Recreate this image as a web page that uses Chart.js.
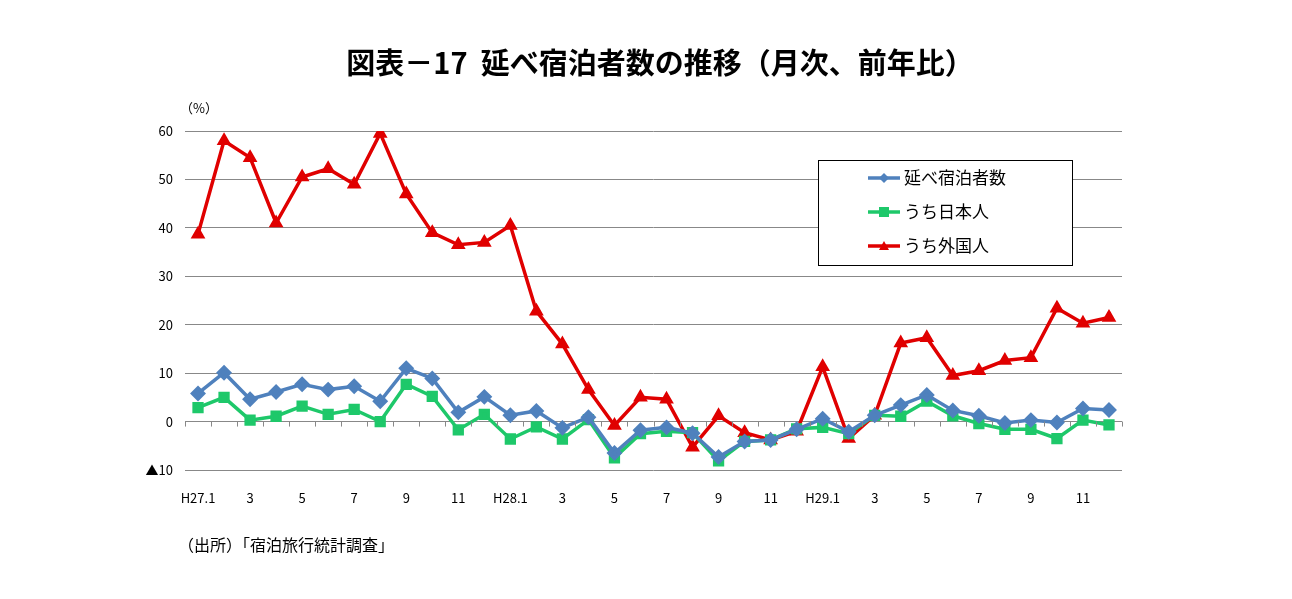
<!DOCTYPE html>
<html>
<head>
<meta charset="utf-8">
<script src="https://cdn.jsdelivr.net/npm/chart.js@4"></script>
<style>
  body { margin: 0; background: #fff; font-family: "Noto Sans CJK JP", sans-serif; }
  #wrap { position: relative; width: 1292px; height: 599px; }
  #title { position: absolute; top: 40px; left: 0; width: 1320px; text-align: center; font-size: 29px; font-weight: bold; }
  #unit { position: absolute; top: 98px; left: 180px; font-size: 13px; }
  #source { position: absolute; top: 532px; left: 178px; font-size: 16px; }
  canvas { position: absolute; left: 0; top: 0; }
</style>
</head>
<body>
<div id="wrap">
  <canvas id="c" width="1292" height="599"></canvas>
  <div id="title">図表－17&nbsp; 延べ宿泊者数の推移（月次、前年比）</div>
  <div id="unit">（%）</div>
  <div id="source">（出所）「宿泊旅行統計調査」</div>
</div>
<script>
const months = [
  "H27.1", "2", "3", "4", "5", "6", "7", "8", "9", "10", "11", "12",
  "H28.1", "2", "3", "4", "5", "6", "7", "8", "9", "10", "11", "12",
  "H29.1", "2", "3", "4", "5", "6", "7", "8", "9", "10", "11", "12",
];
const totalGuests = [
  5.8, 10.1, 4.6, 6.1, 7.7, 6.6, 7.3, 4.2, 11, 8.9, 1.9, 5.1,
  1.3, 2.2, -1.3, 0.9, -6.5, -1.8, -1.2, -2.4, -7.3, -4.1, -3.8, -1.6,
  0.6, -2.1, 1.3, 3.4, 5.5, 2.3, 1.2, -0.3, 0.3, -0.2, 2.7, 2.4,
];
const japanese = [
  2.9, 5, 0.3, 1.1, 3.2, 1.5, 2.5, 0, 7.7, 5.2, -1.7, 1.5,
  -3.6, -1.1, -3.6, 0.4, -7.5, -2.5, -2, -2.3, -8.1, -4.1, -3.8, -1.5,
  -1.2, -2.5, 1.3, 1.1, 4.2, 1.2, -0.4, -1.6, -1.6, -3.5, 0.3, -0.7,
];
const foreign = [
  38.7, 58, 54.5, 41, 50.5, 52.2, 49, 59.5, 47, 39, 36.5, 37,
  40.5, 22.8, 16, 6.6, -0.8, 5, 4.6, -5.3, 1.2, -2.3, -3.8, -2,
  11.3, -3.5, 1.3, 16.2, 17.3, 9.5, 10.5, 12.6, 13.2, 23.4, 20.3, 21.5,
];
const seriesNames = ["延べ宿泊者数", "うち日本人", "うち外国人"];

const FONT = '"Noto Sans CJK JP", sans-serif';

// legend box drawn inside the plot, and category ticks on the zero line
const extras = {
  id: "extras",
  afterDatasetsDraw(chart) {
    const ctx = chart.ctx;
    const x = chart.scales.x, y = chart.scales.y;
    const y0 = y.getPixelForValue(0);
    const half = (x.getPixelForValue(1) - x.getPixelForValue(0)) / 2;
    ctx.save();
    ctx.strokeStyle = "#888";
    ctx.lineWidth = 1;
    for (let i = 0; i <= months.length; i++) {
      const px = Math.round(x.getPixelForValue(i) - half) + 0.5;
      ctx.beginPath();
      ctx.moveTo(px, y0);
      ctx.lineTo(px, y0 + 5);
      ctx.stroke();
    }
    ctx.fillStyle = "#fff";
    ctx.fillRect(818, 160, 254, 105);
    ctx.strokeStyle = "#000";
    ctx.strokeRect(818.5, 160.5, 254, 105);
    chart.data.datasets.forEach((ds, i) => {
      const ly = 178 + i * 34;
      ctx.strokeStyle = ds.borderColor;
      ctx.lineWidth = 3.5;
      ctx.beginPath();
      ctx.moveTo(868, ly);
      ctx.lineTo(900, ly);
      ctx.stroke();
      ctx.fillStyle = ds.borderColor;
      ctx.beginPath();
      if (i === 0) {
        ctx.moveTo(884, ly - 5); ctx.lineTo(889, ly); ctx.lineTo(884, ly + 5); ctx.lineTo(879, ly);
      } else if (i === 1) {
        ctx.rect(879, ly - 5, 10, 10);
      } else {
        ctx.moveTo(884, ly - 5); ctx.lineTo(889, ly + 4); ctx.lineTo(879, ly + 4);
      }
      ctx.fill();
      ctx.fillStyle = "#000";
      ctx.font = "17px " + FONT;
      ctx.textBaseline = "middle";
      ctx.fillText(ds.label, 904, ly);
    });
    ctx.restore();
  },
};

new Chart(document.getElementById("c"), {
  type: "line",
  data: {
    labels: months,
    datasets: [
      { label: seriesNames[0], data: totalGuests, borderColor: "#4f81bd", backgroundColor: "#4f81bd",
        pointStyle: "rectRot", pointRadius: 5.5, borderWidth: 3.5, tension: 0 },
      { label: seriesNames[1], data: japanese, borderColor: "#1ec86a", backgroundColor: "#1ec86a",
        pointStyle: "rect", pointRadius: 5.5, borderWidth: 3.5, tension: 0 },
      { label: seriesNames[2], data: foreign, borderColor: "#e00000", backgroundColor: "#e00000",
        pointStyle: "triangle", pointRadius: 5, borderWidth: 3.5, tension: 0 },
    ],
  },
  options: {
    responsive: false,
    animation: false,
    layout: { padding: { left: 0, right: 170, top: 131, bottom: 0 } },
    plugins: { legend: { display: false }, tooltip: { enabled: false } },
    scales: {
      x: {
        offset: true,
        grid: { display: false },
        border: { display: false },
        ticks: {
          autoSkip: false, maxRotation: 0, padding: 12, color: "#000",
          font: { size: 13, family: FONT },
          callback: (v, i) => (i % 2 === 0 ? months[i] : ""),
        },
        afterFit: (s) => { s.height = 129; },
      },
      y: {
        min: -10, max: 60,
        grid: { color: "#888", drawTicks: false },
        border: { display: false },
        ticks: {
          stepSize: 10, padding: 12, color: "#000",
          font: { size: 13, family: FONT },
          callback: (v) => (v === -10 ? "▲10" : v),
        },
        afterFit: (s) => { s.width = 185; },
      },
    },
  },
  plugins: [extras],
});
</script>
</body>
</html>
